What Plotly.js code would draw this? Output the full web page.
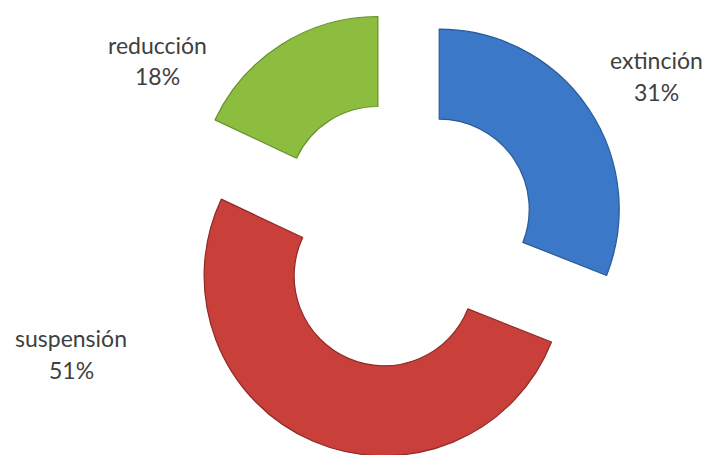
<!DOCTYPE html>
<html>
<head>
<meta charset="utf-8">
<script src="https://cdn.plot.ly/plotly-3.0.1.min.js"></script>
<style>
html,body{margin:0;padding:0;overflow:hidden;background:#fff;}
#chart{width:710px;height:460px;}
</style>
</head>
<body>
<div id="chart"></div>
<script>
var categories = ["extinción", "suspensión", "reducción"];
var percentages = [31, 51, 18];
var sliceColors = ["#3b78c8", "#c9403b", "#8cbd3f"];
var edgeColors = ["#2a5a96", "#8e2a27", "#6a8f2c"];

var labelPos = [
  {x: 656, y1: 60, y2: 92},
  {x: 71, y1: 338, y2: 370},
  {x: 157, y1: 45, y2: 76}
];

function py(ypx) { return 1 - (ypx - 9) / 451; }

var annotations = [];
categories.forEach(function (c, i) {
  var f = {family: "Lato, 'Open Sans', sans-serif", size: 23, color: "#404040"};
  annotations.push({
    xref: "paper", yref: "paper", x: labelPos[i].x / 710, y: py(labelPos[i].y1),
    xanchor: "center", yanchor: "middle", showarrow: false, text: c, font: f
  });
  annotations.push({
    xref: "paper", yref: "paper", x: labelPos[i].x / 710, y: py(labelPos[i].y2),
    xanchor: "center", yanchor: "middle", showarrow: false, text: percentages[i] + "%", font: f
  });
});

var trace = {
  type: "pie",
  labels: categories,
  values: percentages,
  sort: false,
  direction: "clockwise",
  rotation: 0,
  hole: 0.5,
  pull: [0.25, 0.25, 0.25],
  textinfo: "none",
  hoverinfo: "label+percent",
  marker: {colors: sliceColors, line: {color: edgeColors, width: 1.2}},
  domain: {x: [177 / 710, 627 / 710], y: [0, 1]},
  showlegend: false
};

var layout = {
  width: 710,
  height: 460,
  margin: {l: 0, r: 0, t: 9, b: 0},
  paper_bgcolor: "#ffffff",
  plot_bgcolor: "#ffffff",
  showlegend: false,
  annotations: annotations
};

Plotly.newPlot("chart", [trace], layout, {displayModeBar: false, staticPlot: true});
</script>
</body>
</html>
